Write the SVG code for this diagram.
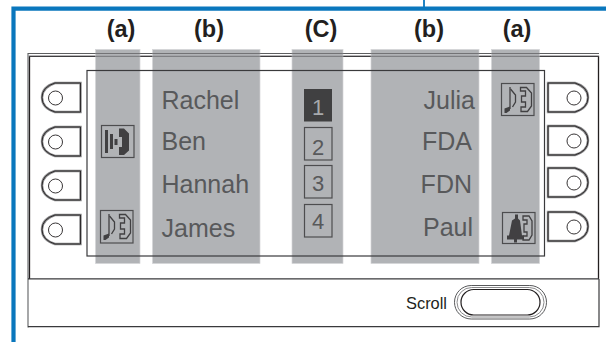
<svg xmlns="http://www.w3.org/2000/svg" width="606" height="342" viewBox="0 0 606 342">
<defs>
<style>
.col{fill:#b1b3b6;stroke:#d4d5d7;stroke-width:.7}
.hd{font:bold 23.5px "Liberation Sans",Arial,sans-serif;fill:#231f20;text-anchor:middle}
.nm{font:25px "Liberation Sans",Arial,sans-serif;fill:#58595b}
.r{text-anchor:end}
.num{font:22px "Liberation Sans",Arial,sans-serif;fill:#58595b;text-anchor:middle}
.box{fill:none;stroke:#4d4d4f;stroke-width:1.2}
.ln{fill:none;stroke:#3a3a3c;stroke-width:1.2}
.hb{fill:#fff;stroke:#8a8a8c;stroke-width:2.4}
.hb2{fill:none;stroke:#231f20;stroke-width:.9}
.ic{fill:none;stroke:#414042;stroke-width:1.3}
.icf{fill:#414042}
</style>
<path id="lb" d="M38.500 0H13Q0 4 0 14.500Q0 25 13 29H38.500Z"/>
<path id="rb" d="M0 0H27Q40 4 40 14.500Q40 25 27 29H0Z"/>
<g id="musicIcon">
<path class="ic" d="M8.500 4V26"/><path class="icf" d="M3 25.500L8.500 23.500V27.500L5 30H3Z"/>
<path class="ic" d="M9 6L14 12V19L11 24"/>
<path class="ic" d="M19 4.500H25L30 10V23L26 28.500H19.500V24H24V19H20V13H24V8H19Z"/>
</g>
</defs>
<rect width="606" height="342" fill="#fff"/>
<g id="frame" fill="none" stroke="#0a77bd">
<path d="M606 8.700H13.500V342" stroke-width="4.200"/>
<path d="M424 0V8" stroke-width="1.800"/>
</g>
<g id="device">
<path d="M28 327.500V53.500H599" fill="none" stroke="#6d6e70" stroke-width="1.200"/>
<path d="M29.500 279V56.300H598.500V279" fill="none" stroke="#231f20" stroke-width="1.300"/>
<path class="ln" d="M28 278.800H599M28 326.700H599V279"/>
</g>
<g id="columns">
<rect class="col" x="95.500" y="49.500" width="44.500" height="214"/>
<rect class="col" x="152.500" y="49.500" width="107.500" height="214"/>
<rect class="col" x="292" y="49.500" width="51" height="214"/>
<rect class="col" x="371" y="49.500" width="108" height="214"/>
<rect class="col" x="491.500" y="49.500" width="48" height="214"/>
<path d="M28 53.500H599M29 56.300H599" stroke="#58595b" stroke-width="1" fill="none" opacity=".7"/>
</g>
<g id="screen"><rect class="ln" x="87" y="70.500" width="457.500" height="185.500"/></g>
<g id="headers">
<text class="hd" x="121" y="37">(a)</text>
<text class="hd" x="209" y="37">(b)</text>
<text class="hd" x="321" y="37">(C)</text>
<text class="hd" x="429" y="37">(b)</text>
<text class="hd" x="517" y="37">(a)</text>
</g>
<g id="names-left">
<text class="nm" x="161.500" y="108.500">Rachel</text>
<text class="nm" x="161.500" y="149.500">Ben</text>
<text class="nm" x="161.500" y="193">Hannah</text>
<text class="nm" x="161.500" y="237">James</text>
</g>
<g id="names-right">
<text class="nm r" x="475" y="108.500">Julia</text>
<text class="nm r" x="472" y="149.500">FDA</text>
<text class="nm r" x="472" y="193">FDN</text>
<text class="nm r" x="473" y="236">Paul</text>
</g>
<g id="numbers">
<g id="n1"><rect x="304" y="89" width="28" height="32.500" fill="#404041"/><text class="num" x="318" y="114.500" style="fill:#a7a9ac">1</text></g>
<g id="n2"><rect class="box" x="304.500" y="127.500" width="27.500" height="32.500"/><text class="num" x="318" y="155">2</text></g>
<g id="n3"><rect class="box" x="304.500" y="165.500" width="27.500" height="32.500"/><text class="num" x="318" y="191">3</text></g>
<g id="n4"><rect class="box" x="304.500" y="204.500" width="27.500" height="32.500"/><text class="num" x="318" y="229">4</text></g>
</g>
<g id="buttons-left">
<g id="bl1" transform="translate(42 83)"><use href="#lb" class="hb"/><use href="#lb" class="hb2"/><circle class="hb2" cx="13.500" cy="15" r="7"/></g>
<g id="bl2" transform="translate(42 127)"><use href="#lb" class="hb"/><use href="#lb" class="hb2"/><circle class="hb2" cx="13.500" cy="15" r="7"/></g>
<g id="bl3" transform="translate(42 171)"><use href="#lb" class="hb"/><use href="#lb" class="hb2"/><circle class="hb2" cx="13.500" cy="15" r="7"/></g>
<g id="bl4" transform="translate(42 215)"><use href="#lb" class="hb"/><use href="#lb" class="hb2"/><circle class="hb2" cx="13.500" cy="15" r="7"/></g>
</g>
<g id="buttons-right">
<g id="br1" transform="translate(548 83)"><use href="#rb" class="hb"/><use href="#rb" class="hb2"/><circle class="hb2" cx="26" cy="15" r="7"/></g>
<g id="br2" transform="translate(548 126)"><use href="#rb" class="hb"/><use href="#rb" class="hb2"/><circle class="hb2" cx="26" cy="15" r="7"/></g>
<g id="br3" transform="translate(548 168)"><use href="#rb" class="hb"/><use href="#rb" class="hb2"/><circle class="hb2" cx="26" cy="15" r="7"/></g>
<g id="br4" transform="translate(548 212)"><use href="#rb" class="hb"/><use href="#rb" class="hb2"/><circle class="hb2" cx="26" cy="15" r="7"/></g>
</g>
<g id="icon-call">
<rect class="box" x="101.500" y="125.500" width="32.500" height="32"/>
<path class="icf" d="M105 130h3v23h-3zM110 134h3v15h-3zM114.500 139h3v6h-3zM119 128.500h5l5 5v17l-5 4.500h-5v-8h3v-10h-3z"/>
</g>
<g id="icon-music-left">
<rect class="box" x="100.500" y="210.500" width="32.500" height="32.500"/>
<use href="#musicIcon" x="100.500" y="210"/>
</g>
<g id="icon-music-right">
<rect class="box" x="501.500" y="83.500" width="32.500" height="32"/>
<use href="#musicIcon" x="501.500" y="83"/>
</g>
<g id="icon-bell">
<rect class="box" x="502.500" y="212.500" width="32.500" height="31"/>
<path class="icf" d="M516 215h3v4l2 2 2 15h2v4h-7v3h-3v-3h-7v-4h2l3-15 3-2z" transform="translate(-1 -.500)"/>
<path class="ic" d="M523 216H529L532 221V235L529 240H523V236H527V232H524V224H527V220H523Z"/>
</g>
<g id="scroll">
<text x="406" y="309" font-family="'Liberation Sans',Arial,sans-serif" font-size="16.400" fill="#231f20">Scroll</text>
<rect x="454.500" y="285.500" width="92" height="33.500" rx="16.700" fill="none" stroke="#58595b" stroke-width="1"/>
<rect x="457" y="287.500" width="87" height="29.500" rx="14.700" fill="none" stroke="#8a8a8c" stroke-width="1"/>
<rect x="461" y="289.500" width="79" height="25.500" rx="12.700" fill="#fff" stroke="#231f20" stroke-width="1.200"/>
</g>
</svg>
